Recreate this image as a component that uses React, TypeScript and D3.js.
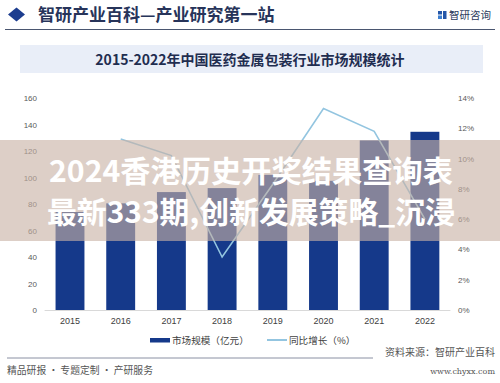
import React from "react";
import * as d3 from "d3";

const years = ["2015", "2016", "2017", "2018", "2019", "2020", "2021", "2022"];
const marketSize = [74, 80.5, 89, 92, 102, 97.5, 128, 134.5];
const growthYears = ["2016", "2017", "2018", "2019", "2020", "2021", "2022"];
const growthRate = [11.3, 10.2, 3.5, 8.3, 13.3, 11.8, 6.0];
const leftTicks = [0, 20, 40, 60, 80, 100, 120, 140, 160];
const rightTicks = [0, 2, 4, 6, 8, 10, 12, 14];

const W = 500;
const H = 383;
const NAVY = "#15398a";
const LINE = "#93c5e0";
const SANS = "'Noto Sans CJK SC', 'Noto Sans', sans-serif";

export default function App() {
  const x = d3
    .scaleBand<string>()
    .domain(years)
    .range([44.65, 450.25])
    .paddingInner(0.43)
    .paddingOuter(0.215);
  const y = d3.scaleLinear().domain([0, 160]).range([310, 98]);
  const y2 = d3.scaleLinear().domain([0, 14]).range([310, 98]);
  const line = d3
    .line<number>()
    .x((_, i) => (x(growthYears[i]) as number) + x.bandwidth() / 2)
    .y((d) => y2(d));

  return (
    <svg
      width={W}
      height={H}
      style={{ position: "absolute", left: 0, top: 0, background: "#fff" }}
      fontFamily={SANS}
    >
      <rect x={0} y={0} width={W} height={H} fill="#fff" />
      {/* header */}
      <path d="M16.5,7.5 L25,14.5 L16.5,21.5 L8,14.5 Z" fill="#1c3d8f" />
      <text x={38} y={21} fontSize={17} fontWeight={700} fill="#27345a">
        智研产业百科—产业研究第一站
      </text>
      <rect x={438} y={11} width={4} height={3.5} fill="#2456a8" />
      <rect x={443} y={11} width={3.5} height={8} fill="#2456a8" />
      <rect x={438} y={15.5} width={4} height={3.5} fill="#3d7fd0" />
      <text x={449} y={19} fontSize={10.5} fill="#2b3a5c">
        智研咨询
      </text>
      <line x1={5} x2={495} y1={29.5} y2={29.5} stroke="#4a5670" strokeWidth={1} />

      {/* title box */}
      <rect x={20} y={45} width={463} height={28} fill="#e9eef8" />
      <text x={250} y={65} textAnchor="middle" fontSize={14} fontWeight={700} fill="#1f2d50">
        2015-2022年中国医药金属包装行业市场规模统计
      </text>

      {/* left axis labels */}
      {leftTicks.map((t) => (
        <text key={"l" + t} x={37} y={y(t) + 3} textAnchor="end" fontSize={8} fill="#595959" fontFamily="'Liberation Sans', sans-serif">
          {t}
        </text>
      ))}
      {rightTicks.map((t) => (
        <text key={"r" + t} x={458} y={y2(t) + 3} textAnchor="start" fontSize={8} fill="#595959" fontFamily="'Liberation Sans', sans-serif">
          {t + "%"}
        </text>
      ))}

      {/* bars */}
      {marketSize.map((v, i) => (
        <rect
          key={years[i]}
          x={x(years[i])}
          y={y(v)}
          width={x.bandwidth()}
          height={y(0) - y(v)}
          fill={NAVY}
        />
      ))}
      <line x1={44.6} x2={450.4} y1={310.5} y2={310.5} stroke="#d9d9d9" strokeWidth={1} />

      {/* line */}
      <path d={line(growthRate) || ""} fill="none" stroke={LINE} strokeWidth={1.6} />

      {/* x labels */}
      {years.map((yr) => (
        <text
          key={"x" + yr}
          x={(x(yr) as number) + x.bandwidth() / 2}
          y={324}
          textAnchor="middle"
          fontSize={9}
          fill="#404040"
          fontFamily="'Liberation Sans', sans-serif"
        >
          {yr}
        </text>
      ))}

      {/* legend */}
      <rect x={150} y={338} width={20} height={4.5} fill={NAVY} />
      <text x={172} y={344} fontSize={9.6} fill="#404040">
        市场规模（亿元）
      </text>
      <line x1={267} x2={287} y1={340} y2={340} stroke={LINE} strokeWidth={2} />
      <text x={289} y={344} fontSize={9.6} fill="#404040">
        同比增长（%）
      </text>

      {/* footer */}
      <line x1={7} x2={373} y1={358} y2={358} stroke="#8a90a3" strokeWidth={1} />
      <text x={385} y={356} fontSize={10} fill="#555">
        资料来源：智研产业百科
      </text>
      <text x={495} y={374} textAnchor="end" fontSize={8} fill="#555" fontFamily="'DejaVu Serif', serif">
        www.chyxx.com
      </text>
      <text x={7} y={374} fontSize={9.8} fill="#555">
        精品研报 · 专题定制 · 产研服务
      </text>

      {/* overlay band */}
      <rect x={0} y={140} width={W} height={101} fill="rgb(200,178,165)" fillOpacity={0.62} />
      <text
        x={49}
        y={182}
        fontSize={30}
        fontWeight={700}
        fill="#fff"
        textLength={404}
        lengthAdjust="spacingAndGlyphs"
      >
        2024香港历史开奖结果查询表
      </text>
      <text
        x={47}
        y={223}
        fontSize={30}
        fontWeight={700}
        fill="#fff"
        textLength={408}
        lengthAdjust="spacingAndGlyphs"
      >
        最新333期,创新发展策略_沉浸
      </text>
    </svg>
  );
}
